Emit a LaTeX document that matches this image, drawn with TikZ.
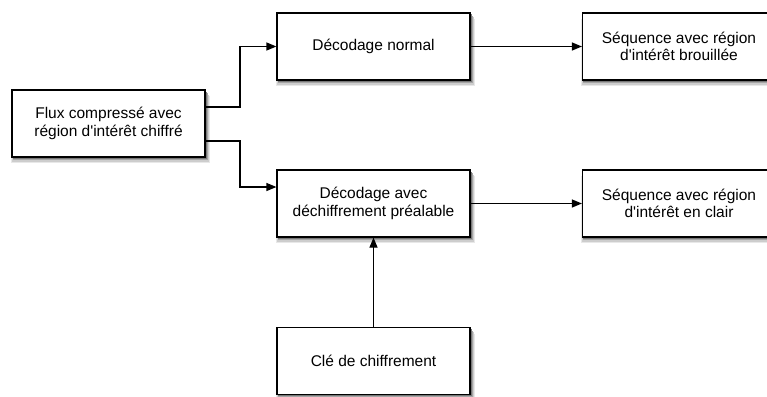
\documentclass[tikz,border=0pt]{standalone}
\usepackage{fontspec}
\setmainfont{Liberation Sans}
\usetikzlibrary{arrows.meta}

\newcommand{\apos}{\textquotesingle}
\definecolor{shadeA}{RGB}{120,120,120}
\definecolor{shadeB}{RGB}{165,165,165}
\definecolor{shadeC}{RGB}{205,205,205}
\definecolor{shadeD}{RGB}{232,232,232}

\begin{document}
\begin{tikzpicture}[x=1pt,y=-1pt,
  blockbox/.style={draw=black, line width=1.2pt, fill=white,
    minimum width=193pt, minimum height=67pt, inner sep=0pt,
    align=center, font=\fontsize{15.5}{17.5}\selectfont},
  shadowbox/.style={minimum width=195pt, minimum height=67pt, inner sep=0pt, draw=none},
  arr/.style={line width=1.2pt, -{Triangle[length=10pt,width=8pt]}}]
  \useasboundingbox (0,0) rectangle (767,396);

  % soft drop shadows under the blocks, as nested grey layers
  \foreach \cx/\cy/\nm in {108.5/123.5/a, 373.5/46.5/b, 373.5/203.5/c,
                           679/46.5/d, 679/203.5/e, 373.5/361/f} {
    \node[shadowbox, fill=shadeD, minimum width=199pt] at (\cx+1.5,\cy+6) {};
    \node[shadowbox, fill=shadeC, minimum width=197pt] at (\cx+1.5,\cy+4.5) {};
    \node[shadowbox, fill=shadeB] at (\cx+1.5,\cy+3) {};
    \node[shadowbox, fill=shadeA, minimum width=194pt] at (\cx+1,\cy+1.5) {};
  }

  % process blocks
  \node[blockbox] (flux)   at (108.5,123.5) {Flux compressé avec\\région d\apos intérêt chiffré};
  \node[blockbox] (dnorm)  at (373.5,46.5)  {Décodage normal};
  \node[blockbox] (davec)  at (373.5,203.5) {Décodage avec\\déchiffrement préalable};
  \node[blockbox] (sbr)    at (679,46.5)    {Séquence avec région\\d\apos intérêt brouillée};
  \node[blockbox] (sclair) at (679,203.5)   {Séquence avec région\\d\apos intérêt en clair};
  \node[blockbox] (cle)    at (373.5,361)   {Clé de chiffrement};

  % connectors
  \draw[arr] (flux.east |- 0,107) -- (240,107) |- (dnorm.west);
  \draw[arr] (flux.east |- 0,141) -- (240,141) |- (davec.west |- 0,187);
  \draw[arr] (dnorm) -- (sbr);
  \draw[arr] (davec) -- (sclair);
  \draw[arr] (cle) -- (davec);
\end{tikzpicture}
\end{document}
